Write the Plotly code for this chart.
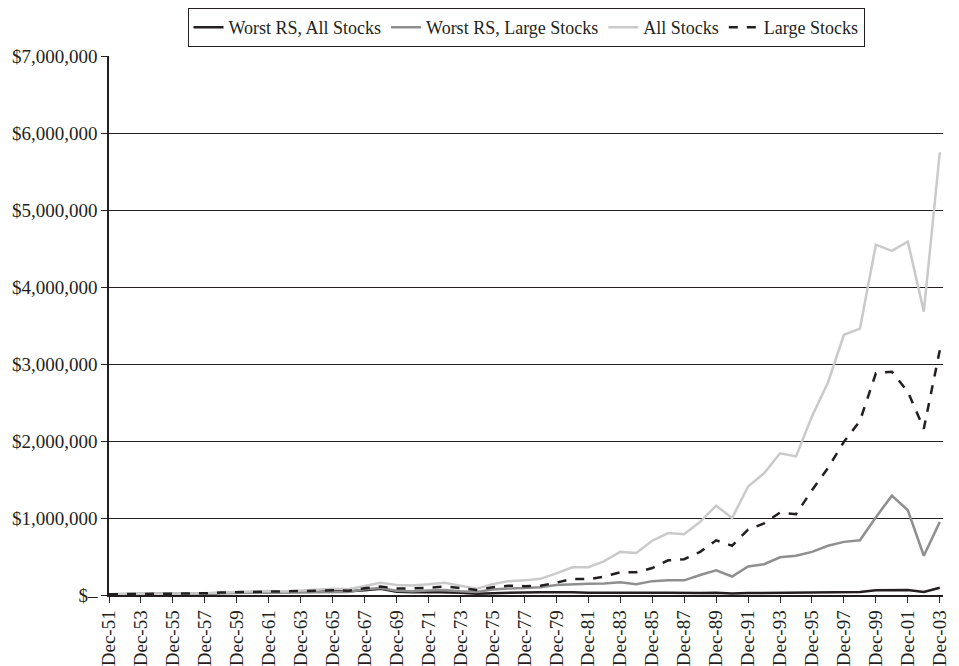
import plotly.graph_objects as go

years = ["Dec-%02d" % (y % 100) for y in range(1951, 2004)]

# values in dollars
worst_rs_all = [10000, 11000, 11000, 16000, 19000, 20000, 17000, 26000, 29000, 28000,
                36000, 30000, 36000, 43000, 55000, 50000, 62000, 80000, 42000, 35000,
                40000, 38000, 28000, 16000, 25000, 32000, 34000, 36000, 38000, 35000,
                30000, 32000, 35000, 28000, 30000, 28000, 25000, 27000, 30000, 18000,
                25000, 28000, 30000, 32000, 35000, 38000, 35000, 38000, 62000, 65000,
                64000, 40000, 95000]
worst_rs_large = [10000, 11000, 11000, 16000, 19000, 20000, 18000, 26000, 28000, 27000,
                  33000, 29000, 35000, 39000, 43000, 40000, 75000, 90000, 55000, 50000,
                  60000, 65000, 50000, 40000, 70000, 85000, 90000, 100000, 130000, 140000,
                  145000, 150000, 165000, 140000, 180000, 190000, 190000, 260000, 320000, 240000,
                  370000, 400000, 490000, 510000, 560000, 640000, 690000, 710000, 1010000, 1290000,
                  1100000, 510000, 950000]
all_stocks = [10000, 12000, 12000, 18000, 23000, 25000, 22000, 34000, 39000, 40000,
              52000, 45000, 55000, 65000, 80000, 75000, 120000, 160000, 130000, 125000,
              140000, 160000, 120000, 80000, 140000, 180000, 190000, 210000, 280000, 360000,
              360000, 440000, 560000, 545000, 705000, 805000, 790000, 950000, 1160000, 1000000,
              1410000, 1580000, 1840000, 1800000, 2320000, 2760000, 3380000, 3460000, 4550000, 4470000,
              4590000, 3680000, 5750000]
large_stocks = [10000, 12000, 12000, 18000, 22000, 24000, 22000, 32000, 36000, 36000,
                45000, 40000, 49000, 56000, 62000, 56000, 87000, 110000, 85000, 85000,
                95000, 110000, 90000, 65000, 100000, 120000, 115000, 120000, 160000, 210000,
                205000, 240000, 295000, 295000, 350000, 450000, 465000, 560000, 710000, 640000,
                850000, 930000, 1070000, 1050000, 1360000, 1650000, 1990000, 2260000, 2880000, 2900000,
                2640000, 2160000, 3180000]

y_ticks = [0, 1000000, 2000000, 3000000, 4000000, 5000000, 6000000, 7000000]
y_labels = ["$–", "$1,000,000", "$2,000,000", "$3,000,000", "$4,000,000",
            "$5,000,000", "$6,000,000", "$7,000,000"]

ink = "#231f20"

fig = go.Figure()
fig.add_trace(go.Scatter(x=years, y=worst_rs_all, mode="lines", name="Worst RS, All Stocks",
                         line=dict(color=ink, width=2.5)))
fig.add_trace(go.Scatter(x=years, y=worst_rs_large, mode="lines", name="Worst RS, Large Stocks",
                         line=dict(color="#8f8f8f", width=2.5)))
fig.add_trace(go.Scatter(x=years, y=all_stocks, mode="lines", name="All Stocks",
                         line=dict(color="#cacaca", width=2.5)))
fig.add_trace(go.Scatter(x=years, y=large_stocks, mode="lines", name="Large Stocks",
                         line=dict(color=ink, width=2.5, dash="dash")))

# page body has an 8px margin, so the figure is a bit smaller than the window
fig.update_layout(
    width=951, height=658,
    margin=dict(l=101, r=16, t=48, b=71, autoexpand=False),
    paper_bgcolor="white", plot_bgcolor="white",
    font=dict(family="Liberation Serif", size=19, color=ink),
    showlegend=True,
    legend=dict(orientation="h", x=0.5, xanchor="center", y=1.089, yanchor="top",
                bordercolor=ink, borderwidth=1, font=dict(size=18),
                itemwidth=30, tracegroupgap=0),
)
fig.update_xaxes(
    type="category", range=[0, 52.2], automargin=False,
    tickvals=years[::2], ticktext=years[::2], tickangle=-90,
    tickfont=dict(size=19),
    showline=True, linecolor=ink, linewidth=1.5,
    ticks="outside", ticklen=6, tickcolor=ink,
    showgrid=False, zeroline=False,
)
fig.update_yaxes(
    range=[0, 7000000], tickvals=y_ticks, ticktext=y_labels, automargin=False,
    tickfont=dict(size=19),
    showline=True, linecolor=ink, linewidth=1.5,
    ticks="outside", ticklen=6, tickcolor=ink,
    showgrid=True, gridcolor=ink, gridwidth=1, zeroline=False,
)

fig.write_html("out.html")
